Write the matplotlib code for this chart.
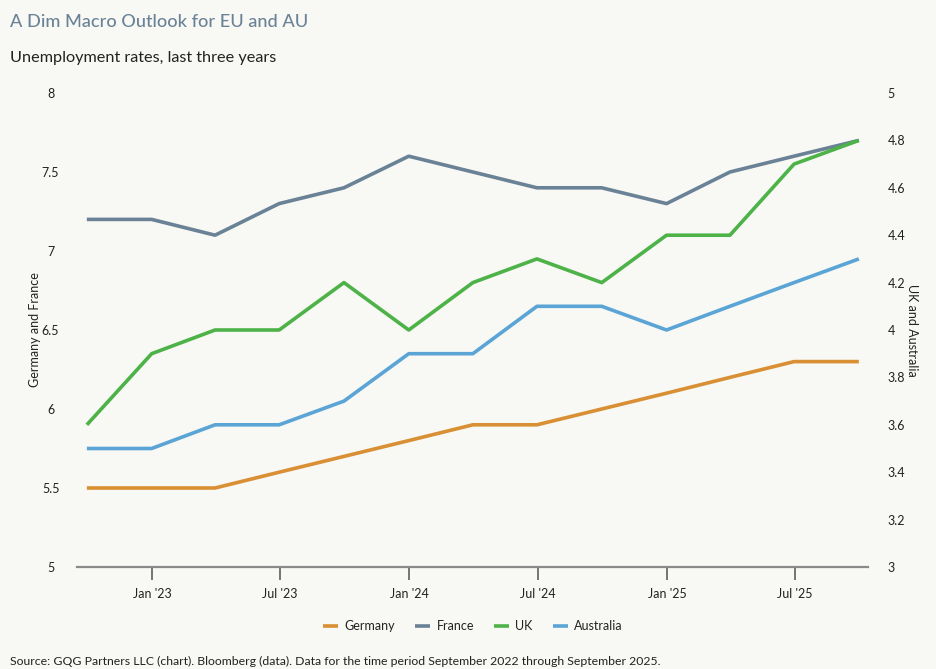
import matplotlib
matplotlib.use("Agg")
import matplotlib.pyplot as plt
import pandas as pd

plt.rcParams['font.family'] = ['Lato', 'DejaVu Sans']

dates = pd.to_datetime(["2022-09-30", "2022-12-31", "2023-03-31", "2023-06-30", "2023-09-30",
                        "2023-12-31", "2024-03-31", "2024-06-30", "2024-09-30", "2024-12-31",
                        "2025-03-31", "2025-06-30", "2025-09-30"])
germany = [5.5, 5.5, 5.5, 5.6, 5.7, 5.8, 5.9, 5.9, 6.0, 6.1, 6.2, 6.3, 6.3]
france = [7.2, 7.2, 7.1, 7.3, 7.4, 7.6, 7.5, 7.4, 7.4, 7.3, 7.5, 7.6, 7.7]
uk = [3.6, 3.9, 4.0, 4.0, 4.2, 4.0, 4.2, 4.3, 4.2, 4.4, 4.4, 4.7, 4.8]
australia = [3.5, 3.5, 3.6, 3.6, 3.7, 3.9, 3.9, 4.1, 4.1, 4.0, 4.1, 4.2, 4.3]

left_ticks = [5, 5.5, 6, 6.5, 7, 7.5, 8]
left_labels = ["5", "5.5", "6", "6.5", "7", "7.5", "8"]
right_ticks = [3, 3.2, 3.4, 3.6, 3.8, 4, 4.2, 4.4, 4.6, 4.8, 5]
right_labels = ["3", "3.2", "3.4", "3.6", "3.8", "4", "4.2", "4.4", "4.6", "4.8", "5"]
x_ticks = pd.to_datetime(["2023-01-01", "2023-07-01", "2024-01-01", "2024-07-01", "2025-01-01", "2025-07-01"])
x_labels = ["Jan '23", "Jul '23", "Jan '24", "Jul '24", "Jan '25", "Jul '25"]

c_ger = "#d98f33"
c_fra = "#6a8296"
c_uk = "#4db348"
c_aus = "#5aa4d6"
bg = "#f8f8f4"
txt = "#222222"

fig = plt.figure(figsize=(9.37, 6.69), dpi=100, facecolor=bg)
ax = fig.add_axes([77/937, 102/669, (868-77)/937, (567-93)/669])
ax.set_facecolor(bg)
ax2 = ax.twinx()

lw = 2.6
l1, = ax.plot(dates, germany, color=c_ger, lw=lw, label="Germany", solid_capstyle='butt')
l2, = ax.plot(dates, france, color=c_fra, lw=lw, label="France", solid_capstyle='butt')
l3, = ax2.plot(dates, uk, color=c_uk, lw=lw, label="UK", solid_capstyle='butt')
l4, = ax2.plot(dates, australia, color=c_aus, lw=lw, label="Australia", solid_capstyle='butt')

ax.set_ylim(5, 8)
ax2.set_ylim(3, 5)
ax.set_xlim(dates[0] - pd.Timedelta(days=14), dates[-1] + pd.Timedelta(days=13))

ax.set_yticks(left_ticks)
ax.set_yticklabels(left_labels)
ax2.set_yticks(right_ticks)
ax2.set_yticklabels(right_labels)
ax.set_xticks(x_ticks)
ax.set_xticklabels(x_labels)

for a in (ax, ax2):
    for s in a.spines.values():
        s.set_visible(False)
ax.spines['bottom'].set_visible(True)
ax.spines['bottom'].set_color("#8a8a8a")
ax.spines['bottom'].set_linewidth(1.6)

ax.tick_params(axis='x', length=9, width=1.3, color="#6a6a6a", pad=6, labelsize=9, labelcolor=txt)
ax.tick_params(axis='y', length=0, pad=19, labelsize=9, labelcolor=txt)
ax2.tick_params(axis='y', length=0, pad=14, labelsize=9, labelcolor=txt)
for lab in ax.get_yticklabels():
    lab.set_horizontalalignment('center')

ax.set_ylabel("Germany and France", fontsize=9, color=txt)
ax.yaxis.set_label_coords((41-77)/791, 0.5)
ax2.set_ylabel("UK and Australia", fontsize=9, color=txt, rotation=270, va='center')
ax2.yaxis.set_label_coords((912-77)/791, 0.5)

fig.text(10/937, 1 - 22/669, "A Dim Macro Outlook for EU and AU", fontsize=13.1, color="#6a8296",
         ha='left', va='center', fontweight='medium')
fig.text(10/937, 1 - 58/669, "Unemployment rates, last three years", fontsize=11.7, color=txt,
         ha='left', va='center')
fig.text(10/937, 1 - 661/669,
         "Source: GQG Partners LLC (chart). Bloomberg (data). Data for the time period September 2022 through September 2025.",
         fontsize=8.8, color=txt, ha='left', va='center')

fig.legend(handles=[l1, l2, l3, l4], loc='center', bbox_to_anchor=(473/937, 1 - 626/669), ncol=4,
           frameon=False, fontsize=9, handlelength=1.2, handletextpad=0.5, columnspacing=1.6,
           labelcolor=txt)

fig.savefig("out.png", dpi=100, facecolor=bg)
